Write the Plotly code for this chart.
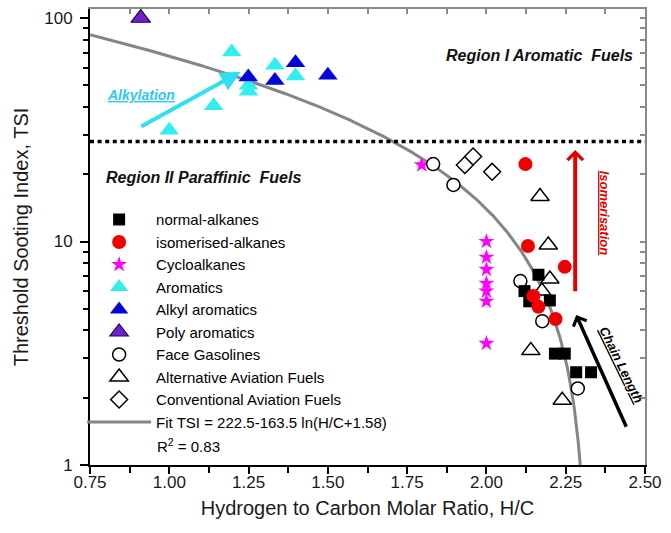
import numpy as np
import plotly.graph_objects as go

# ---- data: H/C molar ratio vs threshold sooting index ----
nalk_hc = [2.164, 2.120, 2.135, 2.200, 2.216, 2.247, 2.283, 2.330]
nalk_tsi = [7.1, 6.0, 5.4, 5.45, 3.15, 3.15, 2.6, 2.6]

isoalk_hc = [2.123, 2.131, 2.247, 2.148, 2.164, 2.218]
isoalk_tsi = [22.2, 9.55, 7.7, 5.7, 5.1, 4.5]

cyclo_hc = [1.796, 2.0, 2.0, 2.0, 2.0, 2.0, 2.0, 2.0]
cyclo_tsi = [22.0, 10.0, 8.5, 7.5, 6.5, 6.0, 5.4, 3.5]

arom_hc = [1.197, 1.333, 1.398, 1.250, 1.250, 1.140, 1.000]
arom_tsi = [70.5, 61.5, 55.0, 50.0, 47.0, 40.5, 31.5]

alkyl_hc = [1.249, 1.333, 1.398, 1.500]
alkyl_tsi = [54.5, 52.5, 63.0, 55.5]

poly_hc = [0.91]
poly_tsi = [100.0]

face_hc = [1.832, 1.896, 2.107, 2.176, 2.288]
face_tsi = [22.2, 17.9, 6.65, 4.4, 2.2]

altav_hc = [2.169, 2.195, 2.200, 2.175, 2.140, 2.239]
altav_tsi = [15.9, 9.65, 6.8, 6.0, 3.25, 1.95]

convav_hc = [1.932, 1.958, 2.018]
convav_tsi = [22.0, 24.0, 20.5]

# fit TSI = A - B ln(H/C + C)
FIT_A, FIT_B, FIT_C = 222.5, 163.5, 1.58
R2 = 0.83

# boundary between region I and region II
REGION_TSI = 28.0

# axis ticks
x_major = [0.75, 1.00, 1.25, 1.50, 1.75, 2.00, 2.25, 2.50]
x_minor = [0.875, 1.125, 1.375, 1.625, 1.875, 2.125, 2.375]
y_major = [1, 10, 100]
y_minor = [2, 3, 4, 5, 6, 7, 8, 9, 20, 30, 40, 50, 60, 70, 80, 90]

FONT = "Liberation Sans, Arial, sans-serif"
LOG_TOP = 2.0403

fig = go.Figure()

# fitted curve
hc_fit = np.linspace(0.75, 2.297, 400)
tsi_fit = FIT_A - FIT_B * np.log(hc_fit + FIT_C)
fig.add_trace(go.Scatter(
    x=hc_fit, y=tsi_fit, mode="lines",
    name=f"Fit TSI = {FIT_A}-{FIT_B} ln(H/C+{FIT_C})",
    line=dict(color="#858585", width=3), legendrank=10))

# region boundary
fig.add_trace(go.Scatter(
    x=[x_major[0], x_major[-1]], y=[REGION_TSI, REGION_TSI], mode="lines",
    line=dict(color="black", width=3.5, dash="4px,3.6px"),
    showlegend=False, hoverinfo="skip"))


def add_series(x, y, name, symbol, color, size, rank, line_color=None, line_width=0):
    fig.add_trace(go.Scatter(
        x=x, y=y, mode="markers", name=name, legendrank=rank,
        marker=dict(symbol=symbol, color=color, size=size,
                    line=dict(color=line_color or color, width=line_width))))


add_series(arom_hc, arom_tsi, "Aromatics", "triangle-up", "#33EEEE", 17, 4)
add_series(alkyl_hc, alkyl_tsi, "Alkyl aromatics", "triangle-up", "#0505D8", 17, 5)
add_series(poly_hc, poly_tsi, "Poly aromatics", "triangle-up", "#7020D0", 17, 6, "#25004a", 1.2)
add_series(cyclo_hc, cyclo_tsi, "Cycloalkanes", "star", "#FF00FF", 12, 3)
add_series(face_hc, face_tsi, "Face Gasolines", "circle", "white", 13, 7, "black", 1.5)
add_series(altav_hc, altav_tsi, "Alternative Aviation Fuels", "triangle-up", "white", 16, 8, "black", 1.5)
add_series(convav_hc, convav_tsi, "Conventional Aviation Fuels", "diamond", "white", 13, 9, "black", 1.5)
add_series(nalk_hc, nalk_tsi, "normal-alkanes", "square", "black", 12, 1)
add_series(isoalk_hc, isoalk_tsi, "isomerised-alkanes", "circle", "#F00000", 14, 2)

# helper trace so the mirrored frame axes exist
fig.add_trace(go.Scatter(x=[None], y=[None], xaxis="x2", yaxis="y2",
                         showlegend=False, hoverinfo="skip"))

axis_font = dict(family=FONT, size=17, color="#1a1a1a")
title_font = dict(family=FONT, size=20, color="#1a1a1a")

fig.update_layout(
    width=671, height=533, autosize=False,
    margin=dict(l=90, r=17, t=9, b=68),
    paper_bgcolor="white", plot_bgcolor="white",
    font=dict(family=FONT, color="black"),
    xaxis=dict(
        range=[0.75, 2.50], tickmode="array", tickvals=x_major,
        ticktext=[f"{v:.2f}" for v in x_major], tickfont=axis_font,
        ticks="outside", ticklen=7, tickwidth=1.5, tickcolor="black",
        ticklabelstandoff=-6,
        minor=dict(tickmode="array", tickvals=x_minor, ticks="outside",
                   ticklen=6, tickwidth=1.5, tickcolor="black", showgrid=False),
        showline=True, linecolor="black", linewidth=2,
        showgrid=False, zeroline=False,
        title=dict(text="Hydrogen to Carbon Molar Ratio, H/C", font=title_font, standoff=10)),
    yaxis=dict(
        type="log", range=[0, LOG_TOP], tickmode="array", tickvals=y_major,
        ticktext=[str(v) for v in y_major], tickfont=axis_font,
        ticks="outside", ticklen=8, tickwidth=1.5, tickcolor="black",
        ticklabelstandoff=4,
        minor=dict(tickmode="array", tickvals=y_minor, ticks="outside",
                   ticklen=5, tickwidth=1.5, tickcolor="black", showgrid=False),
        showline=True, linecolor="black", linewidth=2,
        showgrid=False, zeroline=False,
        title=dict(text="Threshold Sooting Index, TSI", font=title_font, standoff=10)),
    xaxis2=dict(
        overlaying="x", side="top", anchor="y", range=[0.75, 2.50],
        tickmode="array", tickvals=sorted(x_major + x_minor),
        ticks="inside", ticklen=5, tickwidth=1.5, tickcolor="#8a8a8a",
        showticklabels=False, showline=True, linecolor="#8a8a8a", linewidth=2,
        showgrid=False, zeroline=False),
    yaxis2=dict(
        overlaying="y", side="right", anchor="x", type="log", range=[0, LOG_TOP],
        tickmode="array", tickvals=sorted(y_major + y_minor),
        ticks="inside", ticklen=5, tickwidth=1.5, tickcolor="#8a8a8a",
        showticklabels=False, showline=True, linecolor="#8a8a8a", linewidth=2,
        showgrid=False, zeroline=False),
    legend=dict(
        x=-0.0142, y=0.574, xanchor="left", yanchor="top",
        bgcolor="rgba(0,0,0,0)", borderwidth=0,
        font=dict(family=FONT, size=15, color="black"),
        itemwidth=64, tracegroupgap=0),
    showlegend=True,
)

region_font = dict(family=FONT, size=16, color="#111111")
fig.add_annotation(text="<b><i>Region I Aromatic\u00a0 Fuels</i></b>",
                   xref="paper", yref="paper", x=0.81, y=0.899,
                   xanchor="center", yanchor="middle",
                   showarrow=False, font=region_font)
fig.add_annotation(text="<b><i>Region II Paraffinic\u00a0 Fuels</i></b>",
                   xref="paper", yref="paper", x=0.2048, y=0.6294,
                   xanchor="center", yanchor="middle",
                   showarrow=False, font=region_font)
fig.add_annotation(text=f"R<sup>2</sup> = {R2}",
                   xref="paper", yref="paper", x=0.117, y=0.0417,
                   xanchor="left", yanchor="middle", showarrow=False,
                   font=dict(family=FONT, size=15, color="black"))

# trend arrows (head at x/y, tail at ax/ay; log10 units on the y axis)
def trend_arrow(x0, y0, x1, y1, color, width, head, size):
    fig.add_annotation(x=x1, y=np.log10(y1), ax=x0, ay=np.log10(y0),
                       xref="x", yref="y", axref="x", ayref="y",
                       text="", showarrow=True, arrowhead=head,
                       arrowsize=size, arrowwidth=width, arrowcolor=color,
                       standoff=0, startstandoff=0)


trend_arrow(0.907, 32.4, 1.225, 57.5, "#30E0F0", 4, 2, 1.0)
trend_arrow(2.280, 5.9, 2.280, 25.7, "#E00000", 4, 4, 0.75)
trend_arrow(2.443, 1.46, 2.283, 4.69, "black", 3.5, 4, 0.8)

fig.add_annotation(text="<b><i>Alkylation</i></b>", x=0.911, y=1.6555,
                   xref="x", yref="y", xanchor="center", yanchor="middle",
                   showarrow=False,
                   font=dict(family=FONT, size=14, color="#30C8F0", lineposition="under"))
fig.add_annotation(text="<b><i>Isomerisation</i></b>", x=2.375, y=1.1275,
                   xref="x", yref="y", xanchor="center", yanchor="middle",
                   showarrow=False, textangle=90,
                   font=dict(family=FONT, size=13, color="#E00000", lineposition="under"))
fig.add_annotation(text="<b><i>Chain Length</i></b>", x=2.425, y=0.45,
                   xref="x", yref="y", xanchor="center", yanchor="middle",
                   showarrow=False, textangle=64,
                   font=dict(family=FONT, size=13, color="black", lineposition="under"))

fig.write_html("out.html")
